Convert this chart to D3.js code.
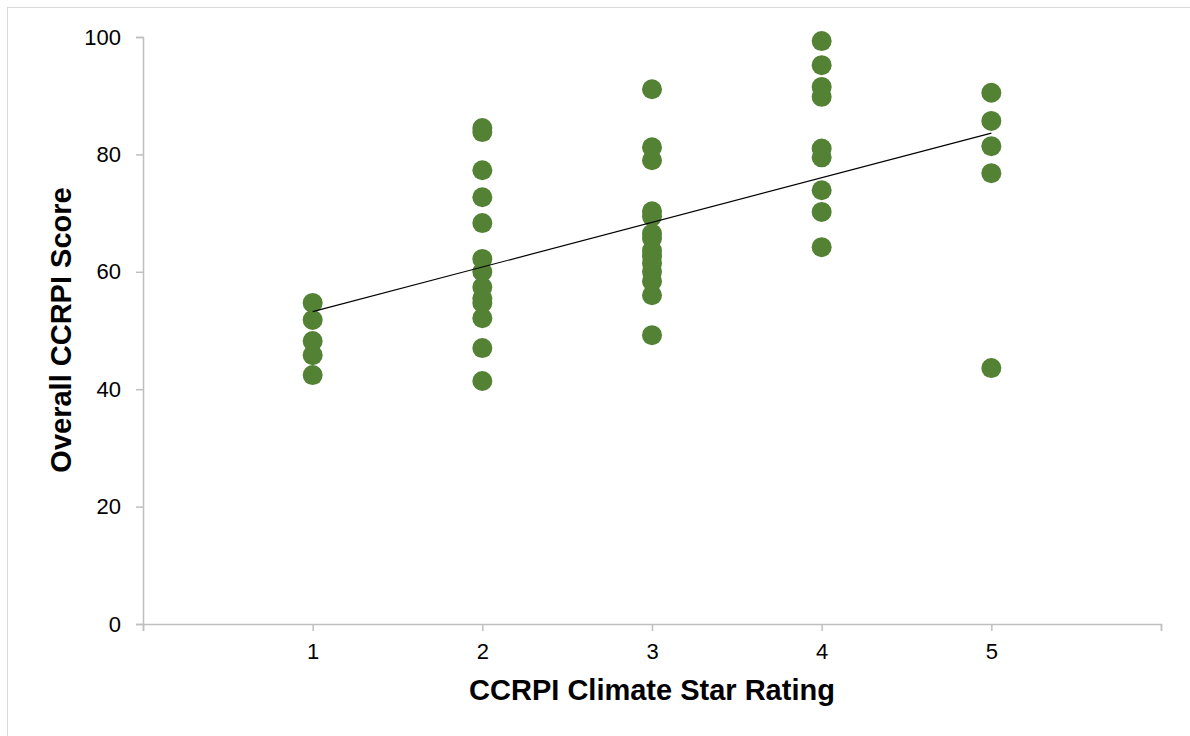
<!DOCTYPE html>
<html>
<head>
<meta charset="utf-8">
<script src="https://cdn.jsdelivr.net/npm/d3@7"></script>
<style>
  body { margin: 0; background: #fff; }
  text { font-family: "Liberation Sans", Arial, sans-serif; }
</style>
</head>
<body>
<div class="canvas"></div>
<script>
// star rating groups and the CCRPI scores read for each one
const ratings = [1, 2, 3, 4, 5];
const scores1 = [54.7, 51.8, 48.2, 45.8, 42.4];
const scores2 = [84.5, 83.8, 77.3, 72.7, 68.3, 62.2, 60.0, 57.4, 55.5, 54.7, 52.1, 47.0, 41.4];
const scores3 = [91.1, 81.2, 79.0, 70.3, 69.4, 66.5, 65.7, 63.6, 62.6, 61.4, 60.0, 58.4, 56.0, 49.2];
const scores4 = [99.3, 95.2, 91.5, 89.8, 81.0, 79.5, 73.9, 70.2, 64.2];
const scores5 = [90.5, 85.7, 81.4, 76.8, 43.6];
const yTicks = [0, 20, 40, 60, 80, 100];
const xTicks = [0, 1, 2, 3, 4, 5, 6];

const width = 1190;
const height = 736;

const svg = d3.select('.canvas')
  .append('svg')
  .attr('width', width)
  .attr('height', height);

// outer chart border
svg.append('rect')
  .attr('x', 7.5)
  .attr('y', 7.5)
  .attr('width', width)
  .attr('height', height)
  .attr('fill', 'none')
  .attr('stroke', '#d9d9d9');

const margin = { top: 37, right: 29, bottom: 112, left: 143 };
const graphWidth = width - margin.left - margin.right;
const graphHeight = height - margin.top - margin.bottom;

const graph = svg.append('g')
  .attr('transform', `translate(${margin.left},${margin.top})`);

const x = d3.scaleLinear()
  .domain([0, 6])
  .range([0, graphWidth]);

const y = d3.scaleLinear()
  .domain([0, 100])
  .range([graphHeight, 0]);

// flatten groups into points
const groups = [scores1, scores2, scores3, scores4, scores5];
const data = [];
groups.forEach((g, i) => g.forEach(v => data.push({ rating: ratings[i], score: v })));

// axes
const xAxis = d3.axisBottom(x)
  .tickValues(xTicks)
  .tickSize(7)
  .tickPadding(12)
  .tickFormat(d => (d >= 1 && d <= 5) ? d : '');

const yAxis = d3.axisLeft(y)
  .tickValues(yTicks)
  .tickSize(7)
  .tickPadding(15);

const xAxisGroup = graph.append('g')
  .attr('transform', `translate(0,${graphHeight})`)
  .call(xAxis);
const yAxisGroup = graph.append('g')
  .call(yAxis);

[xAxisGroup, yAxisGroup].forEach(g => {
  g.select('.domain').attr('stroke', '#bfbfbf').attr('stroke-width', 1.5);
  g.selectAll('.tick line').attr('stroke', '#bfbfbf').attr('stroke-width', 1.5);
  g.selectAll('.tick text')
    .attr('fill', '#000')
    .style('font-size', '22px')
    .style('font-family', '"Liberation Sans", Arial, sans-serif');
});

// points
graph.selectAll('circle')
  .data(data)
  .enter()
  .append('circle')
  .attr('cx', d => x(d.rating))
  .attr('cy', d => y(d.score))
  .attr('r', 10)
  .attr('fill', '#548235');

// linear trend line (least squares)
const mx = d3.mean(data, d => d.rating);
const my = d3.mean(data, d => d.score);
const slope = d3.sum(data, d => (d.rating - mx) * (d.score - my)) /
  d3.sum(data, d => (d.rating - mx) ** 2);
const intercept = my - slope * mx;
const trend = d3.extent(ratings).map(r => ({ rating: r, score: intercept + slope * r }));

graph.append('path')
  .datum(trend)
  .attr('fill', 'none')
  .attr('stroke', '#000')
  .attr('stroke-width', 1.2)
  .attr('d', d3.line().x(d => x(d.rating)).y(d => y(d.score)));

// axis titles
svg.append('text')
  .attr('x', margin.left + x(3))
  .attr('y', 700)
  .attr('text-anchor', 'middle')
  .style('font-size', '29px')
  .style('font-weight', 'bold')
  .text('CCRPI Climate Star Rating');

svg.append('text')
  .attr('transform', 'translate(71,330) rotate(-90)')
  .attr('text-anchor', 'middle')
  .style('font-size', '29px')
  .style('font-weight', 'bold')
  .text('Overall CCRPI Score');
</script>
</body>
</html>
